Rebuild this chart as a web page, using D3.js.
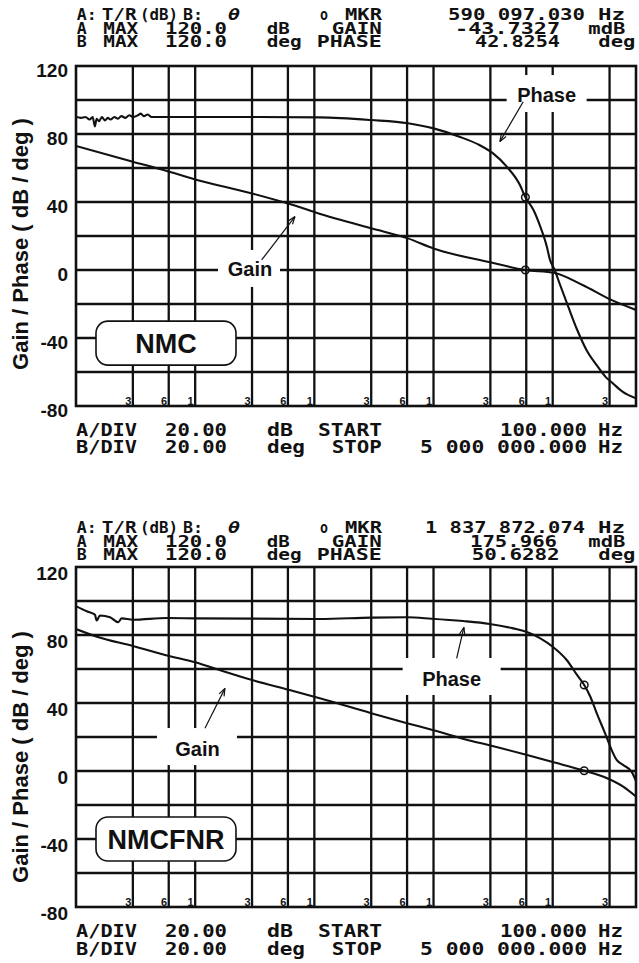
<!DOCTYPE html>
<html><head><meta charset="utf-8">
<script src="https://cdn.jsdelivr.net/npm/d3@7"></script>
<style>html,body{margin:0;padding:0;background:#fff;} svg{display:block;}</style>
</head><body>
<script>
// ---------------- DATA ----------------
const freqDomain = [100, 5e6];
const valueDomain = [-80, 120];
const gridValues = [100, 80, 60, 40, 20, 0, -20, -40, -60];
const gridFreqs = [300, 600, 1e3, 3e3, 6e3, 1e4, 3e4, 6e4, 1e5, 3e5, 6e5, 1e6, 3e6];
const gridFreqLabels = ["3","6","1","3","6","1","3","6","1","3","6","1","3"];
const yTickValues = [120, 80, 40, 0, -40, -80];
const yTickLabels = ["120","80","40","0","-40","-80"];
const yTitle = "Gain / Phase ( dB / deg )";

// NMC (top panel) : [frequency Hz, value]
const nmcPhase = [[100,90],[110,89.5],[120,90],[130,88.5],[138,90],[144,84.5],[149,89],[156,87.5],[165,90],[175,88],[185,89.5],[195,88.5],[210,90],[225,89],[240,90.5],[260,89.5],[280,91],[300,90],[330,91],[350,92],[370,90.5],[400,91.5],[430,90],[500,90],[1000,90],[3000,90],[11100,89.8],[30000,88.2],[61000,86.3],[100000,83.3],[165000,78.4],[243000,73.5],[316000,68.6],[412000,60.8],[531000,50],[590097,42.8],[690000,35.3],[787000,25.5],[893000,13.7],[948000,6],[1040000,0],[1140000,-7.8],[1350000,-21.6],[1600000,-35],[1920000,-47],[2340000,-56],[2790000,-63],[3200000,-66.7],[3850000,-71.6],[5000000,-75.5]];
const nmcGain = [[100,73],[300,63.7],[578,58.2],[1000,53.3],[3000,45],[6200,38.8],[10400,33.7],[30000,24.5],[61000,18.6],[100000,12.7],[300000,4.5],[590097,0],[1040000,-1.8],[1780000,-8.8],[3100000,-17.6],[5000000,-23.5]];
const nmcMarker = {freq: 590097.030, gain: -0.0437327, phase: 42.8254};

// NMCFNR (bottom panel)
const fnrPhase = [[100,97],[123,94],[144,92],[149,88.5],[159,91.5],[193,90.5],[226,87.5],[242,89.8],[300,89],[578,90],[1000,89.8],[11100,89.4],[30000,90.2],[60000,90.4],[96000,89.6],[177000,88.2],[296000,86.5],[466000,83.9],[600000,81.9],[787000,78],[1000000,73.1],[1310000,65.3],[1600000,56.5],[1837872,50.6],[2070000,43.7],[2340000,34],[2720000,23],[2900000,18],[3120000,12.4],[3440000,6.5],[3910000,3.5],[4590000,-0.4],[5000000,-6]];
const fnrGain = [[100,83.5],[150,79],[300,73.5],[580,68],[1000,64],[1600,59.4],[3000,53.5],[6200,47.6],[11100,42.8],[30000,34],[61000,28],[100000,24],[200000,18],[300000,15],[610000,9.4],[1000000,5.3],[1837872,0.2],[2800000,-4],[3900000,-9.2],[5000000,-15]];
const fnrMarker = {freq: 1837872.074, gain: 0.175966, phase: 50.6282};

// Header / footer texts
const hdrL1Top = ["A:","T/R","(dB)","B:","θ","o","MKR","590 097.030","Hz"];
const hdrL1Bot = ["A:","T/R","(dB)","B:","θ","o","MKR","1 837 872.074","Hz"];
const hdrL2Top = ["A","MAX","120.0","dB","GAIN","-43.7327","mdB"];
const hdrL2Bot = ["A","MAX","120.0","dB","GAIN","175.966","mdB"];
const hdrL3Top = ["B","MAX","120.0","deg","PHASE","42.8254","deg"];
const hdrL3Bot = ["B","MAX","120.0","deg","PHASE","50.6282","deg"];
const ftrL1 = ["A/DIV","20.00","dB","START","100.000","Hz"];
const ftrL2 = ["B/DIV","20.00","deg","STOP","5 000 000.000","Hz"];

// ---------------- LAYOUT ----------------
const W = 639, H = 963, X0 = 76, X1 = 636;
const hdrL1Pos = [[76.7,20],[101.7,35],[140,38],[183,20],[228,12],[320,8],[345,37],[448,137],[598,27]];
const hdrL1PosBot = [[76.7,20],[101.7,35],[140,38],[183,20],[228,12],[320,8],[345,37],[425,160],[598,27]];
const hdrL2Pos = [[76.7,10],[103.3,35],[165,62],[266.7,23],[331.7,50],[455,105],[588.3,37]];
const hdrL2PosBot = [[76.7,10],[103.3,35],[165,62],[266.7,23],[331.7,50],[470,87],[588.3,37]];
const hdrL3Pos = [[76.7,10],[103.3,35],[165,62],[266.7,35],[316.7,65],[475,85],[598.3,37]];
const hdrL3PosBot = [[76.7,10],[103.3,35],[165,62],[266.7,35],[316.7,65],[471.7,88],[598.3,37]];
const ftrL1Pos = [[76,61],[165,62],[267,26],[318,64],[500,87],[598,25]];
const ftrL2Pos = [[76,61],[165,62],[267,38],[331.7,50],[420,167],[598,25]];

const panels = [
  {name:"NMC", top:66, bottom:406, phase:nmcPhase, gain:nmcGain, marker:nmcMarker,
   hdr:[[hdrL1Top,hdrL1Pos],[hdrL2Top,hdrL2Pos],[hdrL3Top,hdrL3Pos]], hdrBase:[20,33.5,47],
   ftrBase:[436,453], titleY:244, tickDy:11,
   box:{f:569, v:-43},
   phaseLbl:{f:889e3, v:99.1, rect:[-40,-26.5,80,37]},
   gainLbl:{f:2884, v:-3.5, rect:[-32,-26,62,37]},
   phaseArrow:[[565.6e3,99],[360.6e3,75.5]],
   gainArrow:[[3613,5.9],[6875,31.4]]},
  {name:"NMCFNR", top:567, bottom:907, phase:fnrPhase, gain:fnrGain, marker:fnrMarker,
   hdr:[[hdrL1Bot,hdrL1PosBot],[hdrL2Bot,hdrL2PosBot],[hdrL3Bot,hdrL3PosBot]], hdrBase:[533,546.5,560],
   ftrBase:[937,955], titleY:757, tickDy:13,
   box:{f:569, v:-40},
   phaseLbl:{f:141.9e3, v:50, rect:[-49,-28,98,37]},
   gainLbl:{f:1045, v:8.8, rect:[-40.5,-28,80,37]},
   phaseArrow:[[156.3e3,66.3],[179.9e3,84.5]],
   gainArrow:[[1208,25.1],[1778,48.6]]}
];

const INK = "#111";
const SANS = "'Liberation Sans', Arial, Helvetica, sans-serif";
const MONO = "'DejaVu Sans Mono', monospace";

const svg = d3.select("body").append("svg").attr("width", W).attr("height", H)
  .style("background", "#fff");

function tokens(g, strs, pos, base, size) {
  strs.forEach((s, i) => {
    const t = g.append("text")
      .attr("x", pos[i][0]).attr("y", base)
      .attr("textLength", pos[i][1]).attr("lengthAdjust", "spacingAndGlyphs")
      .attr("font-family", MONO).attr("font-weight", "bold")
      .attr("font-size", size).attr("fill", INK).text(s);
    if (s === "θ") t.attr("font-style", "italic");
  });
}

function arrow(g, x, y, pts) {
  const [a, b] = pts;
  const x1 = x(a[0]), y1 = y(a[1]), x2 = x(b[0]), y2 = y(b[1]);
  g.append("line").attr("x1", x1).attr("y1", y1).attr("x2", x2).attr("y2", y2)
    .attr("stroke", INK).attr("stroke-width", 1.2);
  const ang = Math.atan2(y1 - y2, x1 - x2), L = 8, s = 0.35;
  [ang - s, ang + s].forEach(a2 => {
    g.append("line").attr("x1", x2).attr("y1", y2)
      .attr("x2", x2 + L * Math.cos(a2)).attr("y2", y2 + L * Math.sin(a2))
      .attr("stroke", INK).attr("stroke-width", 1.2);
  });
}

panels.forEach((p, pi) => {
  const g = svg.append("g");
  const x = d3.scaleLog().domain(freqDomain).range([X0, X1]);
  const y = d3.scaleLinear().domain(valueDomain).range([p.bottom, p.top]);

  // grid
  g.selectAll("line.hg").data(gridValues).join("line").attr("class", "hg")
    .attr("x1", X0).attr("x2", X1).attr("y1", d => y(d)).attr("y2", d => y(d))
    .attr("stroke", INK).attr("stroke-width", 2.3);
  g.selectAll("line.vg").data(gridFreqs).join("line").attr("class", "vg")
    .attr("x1", d => x(d)).attr("x2", d => x(d)).attr("y1", p.top).attr("y2", p.bottom)
    .attr("stroke", INK).attr("stroke-width", 2.3);

  // white gaps behind annotation labels
  [p.phaseLbl, p.gainLbl].forEach(l => {
    g.append("rect").attr("x", x(l.f) + l.rect[0]).attr("y", y(l.v) + l.rect[1])
      .attr("width", l.rect[2]).attr("height", l.rect[3]).attr("fill", "#fff");
  });

  // frame
  g.append("rect").attr("x", X0).attr("y", p.top).attr("width", X1 - X0)
    .attr("height", p.bottom - p.top).attr("fill", "none")
    .attr("stroke", INK).attr("stroke-width", 2.6);

  // small decade labels
  g.selectAll("text.fl").data(gridFreqs).join("text").attr("class", "fl")
    .attr("x", d => x(d) - 1.5).attr("y", p.bottom - 1.5)
    .attr("text-anchor", "end").attr("font-family", SANS).attr("font-weight", "bold")
    .attr("font-size", 11).attr("fill", INK).text((d, i) => gridFreqLabels[i]);

  // curves
  const clipId = "clip" + pi;
  svg.append("clipPath").attr("id", clipId).append("rect")
    .attr("x", X0).attr("y", p.top).attr("width", X1 - X0).attr("height", p.bottom - p.top);
  const line = d3.line().x(d => x(d[0])).y(d => y(d[1])).curve(d3.curveMonotoneX);
  const cg = g.append("g").attr("clip-path", `url(#${clipId})`);
  [p.gain, p.phase].forEach(series => {
    cg.append("path").attr("d", line(series)).attr("fill", "none")
      .attr("stroke", INK).attr("stroke-width", 2.1).attr("stroke-linejoin", "round");
  });

  // markers
  [p.marker.gain, p.marker.phase].forEach(v => {
    g.append("circle").attr("cx", x(p.marker.freq)).attr("cy", y(v)).attr("r", 3.8)
      .attr("fill", "none").attr("stroke", INK).attr("stroke-width", 1.5);
  });

  // annotations
  [[p.phaseLbl, "Phase"], [p.gainLbl, "Gain"]].forEach(([l, s]) => {
    g.append("text").attr("x", x(l.f)).attr("y", y(l.v)).attr("text-anchor", "middle")
      .attr("font-family", SANS).attr("font-weight", "bold").attr("font-size", 20)
      .attr("fill", INK).text(s);
  });
  arrow(g, x, y, p.phaseArrow);
  arrow(g, x, y, p.gainArrow);

  // name box
  const bx = x(p.box.f), by = y(p.box.v);
  g.append("rect").attr("x", bx - 70).attr("y", by - 22).attr("width", 140).attr("height", 44)
    .attr("rx", 12).attr("fill", "#fff").attr("stroke", INK).attr("stroke-width", 1.6);
  g.append("text").attr("x", bx).attr("y", by + 10).attr("text-anchor", "middle")
    .attr("font-family", SANS).attr("font-weight", "bold").attr("font-size", 27)
    .attr("fill", INK).text(p.name);

  // y tick labels
  g.selectAll("text.yl").data(yTickValues).join("text").attr("class", "yl")
    .attr("x", 68).attr("y", d => y(d) + p.tickDy).attr("text-anchor", "end")
    .attr("font-family", SANS).attr("font-weight", "bold").attr("font-size", 19)
    .attr("fill", INK).text((d, i) => yTickLabels[i]);

  // y title
  g.append("text").attr("transform", `translate(28,${p.titleY}) rotate(-90)`)
    .attr("text-anchor", "middle").attr("font-family", SANS).attr("font-weight", "bold")
    .attr("font-size", 22).attr("fill", INK).text(yTitle);

  // header & footer
  p.hdr.forEach(([strs, pos], i) => tokens(g, strs, pos, p.hdrBase[i], 16));
  tokens(g, ftrL1, ftrL1Pos, p.ftrBase[0], 17.5);
  tokens(g, ftrL2, ftrL2Pos, p.ftrBase[1], 17.5);
});
</script>
</body></html>
